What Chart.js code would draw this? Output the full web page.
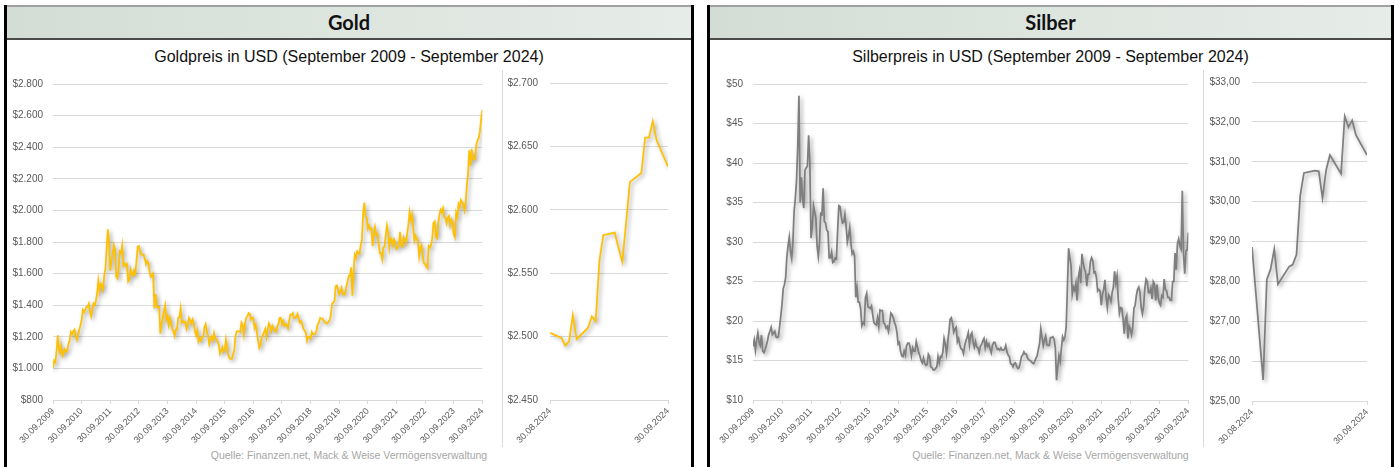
<!DOCTYPE html>
<html>
<head>
<meta charset="utf-8">
<script src="https://cdn.jsdelivr.net/npm/chart.js@4.4.1/dist/chart.umd.min.js"></script>
<style>
  html,body{margin:0;padding:0;background:#fff;width:1395px;height:467px;overflow:hidden;font-family:"Liberation Sans",Arial,sans-serif;}
  .panel{position:absolute;top:5px;height:470px;border-left:3px solid #000;border-right:3px solid #000;box-sizing:border-box;}
  .head{position:absolute;left:0;right:0;top:0;height:35px;box-sizing:border-box;border-top:2px solid #a0a0a0;border-bottom:2px solid #4a4a4a;
        background:linear-gradient(to right,#d3ddd5 0%,#dde5df 50%,#e6ece8 100%);
        font-family:Lato,"Open Sans",sans-serif;font-weight:700;font-size:20px;color:#111;text-align:center;line-height:31px;}
  .title{position:absolute;font-size:16px;line-height:18px;color:#111;text-align:center;white-space:nowrap;}
  .src{position:absolute;font-size:10.5px;color:#a6a6a6;text-align:center;white-space:nowrap;}
  .sep{position:absolute;width:1px;background:#d9d9d9;}
  .cv{position:absolute;}
</style>
</head>
<body>
<div class="panel" style="left:4px;width:690px;"><div class="head">Gold</div></div>
<div class="panel" style="left:707px;width:687px;"><div class="head">Silber</div></div>

<div class="title" style="left:4px;width:690px;top:48px;">Goldpreis in USD (September 2009 - September 2024)</div>
<div class="title" style="left:707px;width:687px;top:48px;">Silberpreis in USD (September 2009 - September 2024)</div>
<div class="src" style="left:4px;width:690px;top:449px;">Quelle: Finanzen.net, Mack &amp; Weise Vermögensverwaltung</div>
<div class="src" style="left:707px;width:687px;top:449px;">Quelle: Finanzen.net, Mack &amp; Weise Vermögensverwaltung</div>
<div class="sep" style="left:502px;top:70px;height:377px;"></div>
<div class="sep" style="left:1203px;top:70px;height:377px;"></div>

<canvas id="gMain" class="cv" style="left:8px;top:68px;" width="484" height="382"></canvas>
<canvas id="gInset" class="cv" style="left:503px;top:65px;" width="175" height="385"></canvas>
<canvas id="sMain" class="cv" style="left:708px;top:68px;" width="490" height="382"></canvas>
<canvas id="sInset" class="cv" style="left:1205px;top:64px;" width="172" height="387"></canvas>

<script>
// ---- Data (semi-monthly readings, starting 30.09.2009) ----
const yearTicks = ["30.09.2009","30.09.2010","30.09.2011","30.09.2012","30.09.2013","30.09.2014","30.09.2015","30.09.2016","30.09.2017","30.09.2018","30.09.2019","30.09.2020","30.09.2021","30.09.2022","30.09.2023","30.09.2024"];
const insetTicks = ["30.08.2024","30.09.2024"];

const goldPrice = [1000,
1050,1040,1110,1210,1120,1100,1140,1080,1100,1120,1105,1115,1155,1180,1230,1215,1235,1245,1205,1180,1215,1245,1270,1307,
1370,1355,1370,1390,1390,1410,1360,1330,1375,1410,1400,1430,1475,1555,1490,1535,1525,1500,1590,1630,1760,1880,1800,1620,
1680,1720,1780,1750,1580,1570,1640,1740,1730,1780,1650,1665,1650,1660,1550,1560,1625,1600,1590,1620,1600,1680,1770,1775,
1740,1720,1720,1720,1695,1660,1680,1665,1610,1580,1590,1600,1380,1470,1390,1390,1390,1220,1285,1315,1360,1400,1310,1330,
1275,1320,1285,1250,1235,1205,1245,1245,1320,1325,1380,1290,1300,1290,1295,1250,1275,1320,1305,1285,1310,1285,1235,1210,
1240,1170,1190,1175,1200,1200,1260,1280,1230,1210,1155,1185,1200,1180,1225,1190,1185,1170,1150,1095,1115,1135,1105,1115,
1185,1140,1085,1065,1060,1060,1090,1115,1205,1235,1235,1235,1230,1290,1275,1215,1285,1320,1330,1350,1345,1310,1320,1320,
1255,1275,1225,1175,1130,1150,1195,1210,1230,1250,1200,1250,1285,1265,1235,1270,1255,1240,1230,1265,1280,1320,1320,1280,
1300,1270,1280,1275,1255,1300,1340,1340,1350,1320,1320,1325,1345,1315,1290,1300,1280,1250,1240,1225,1175,1200,1200,1190,
1230,1215,1215,1220,1240,1280,1290,1320,1315,1315,1300,1295,1285,1285,1295,1305,1340,1410,1415,1425,1520,1525,1500,1470,
1485,1510,1470,1465,1475,1520,1550,1585,1585,1640,1460,1600,1720,1700,1740,1730,1725,1780,1810,1975,2050,1965,1955,1885,
1905,1880,1885,1775,1855,1895,1845,1850,1795,1730,1730,1690,1765,1770,1845,1905,1860,1765,1825,1815,1780,1815,1795,1755,
1765,1785,1865,1775,1770,1830,1820,1795,1855,1910,1990,1940,1975,1895,1810,1840,1820,1810,1710,1765,1780,1710,1665,1660,
1645,1635,1775,1765,1780,1825,1920,1930,1835,1825,1920,1970,2005,1990,2015,1960,1955,1920,1955,1965,1905,1940,1925,1850,
1830,1985,1960,2040,2020,2065,2050,2040,2000,2045,2160,2230,2380,2285,2390,2330,2320,2325,2420,2445,2460,2500,2580,2635];

const silverPrice = [16.8,
17.6,16.3,17.6,18.5,17.3,16.9,18.2,16.2,16.0,16.4,16.9,17.5,18.3,18.7,19.2,18.3,18.5,18.7,18.0,17.9,18.0,19.3,20.6,22.1,
24.1,24.6,25.5,28.1,29.5,30.6,28.8,27.9,30.0,33.9,35.5,37.8,42.0,48.5,35.0,38.2,35.5,34.3,39.1,39.4,39.6,43.5,40.0,30.5,
31.8,34.6,33.8,33.0,29.5,28.2,30.0,33.6,33.5,36.8,32.6,32.4,31.5,31.3,28.0,28.0,28.7,27.4,27.5,28.0,27.9,31.5,34.6,34.5,
33.2,32.4,32.5,33.5,32.0,30.0,30.8,31.8,29.8,28.5,28.8,28.2,23.0,24.2,22.4,22.4,21.6,19.4,19.8,19.6,23.0,23.5,21.8,21.7,
21.6,21.9,20.8,19.8,19.6,19.5,20.4,19.3,21.4,21.3,21.3,19.8,19.6,19.1,19.3,18.7,19.7,21.0,20.8,20.4,19.8,19.4,18.6,17.1,
17.3,16.2,15.6,15.5,16.2,15.7,16.9,17.2,17.2,16.6,15.6,16.6,16.2,16.2,17.4,16.7,16.0,15.6,15.0,14.7,15.3,14.6,14.4,14.5,
15.8,15.5,14.2,14.1,13.8,13.8,14.0,14.2,15.5,14.7,15.5,15.4,16.1,17.8,17.1,15.9,17.3,18.6,20.2,20.4,19.7,18.6,19.0,19.2,
17.4,17.8,17.0,16.5,16.4,15.9,16.8,17.5,17.9,18.5,17.0,18.2,18.5,17.3,16.7,17.4,16.7,16.6,16.0,16.8,17.0,17.5,17.8,16.6,
17.4,16.8,17.1,16.5,16.0,16.9,17.3,17.3,16.8,16.4,16.5,16.3,16.6,16.3,16.3,16.4,16.9,16.1,15.7,15.5,14.6,14.5,14.2,14.6,
14.7,14.3,14.0,14.1,14.7,15.5,15.7,16.1,15.8,15.8,15.3,15.1,15.0,14.9,14.7,14.6,14.9,15.3,15.6,16.4,17.2,19.0,17.9,16.9,
17.6,18.1,17.0,16.9,16.9,17.9,17.9,18.0,17.7,16.6,12.5,14.2,15.6,14.9,16.5,18.0,17.6,18.0,19.3,24.3,29.2,28.0,27.0,23.4,
24.3,23.9,24.8,22.6,25.5,26.4,24.8,28.5,27.4,26.6,26.2,24.4,25.9,25.9,27.5,28.0,27.6,26.1,26.2,25.5,23.8,24.0,23.8,22.0,
23.4,24.0,25.2,23.0,21.7,23.3,23.0,22.5,23.6,24.3,26.3,24.8,25.7,22.8,21.0,21.7,21.6,20.3,18.4,20.3,20.7,17.8,19.4,19.0,
18.3,19.2,21.6,22.0,23.2,24.0,24.3,23.6,21.7,20.9,21.9,24.1,25.3,25.0,23.6,23.6,24.2,22.8,25.0,24.7,22.6,24.6,23.0,22.3,
22.0,23.2,23.0,25.3,24.0,23.8,23.0,23.0,22.6,22.6,25.0,25.0,28.6,26.5,29.8,30.4,29.5,29.1,36.5,28.5,26.0,28.9,29.0,31.2];

// last month (days after 30.08.2024)
const insetDays = [0,3,4,5,6,7,10,11,12,13,14,17,18,19,20,21,24,25,26,27,28,31];
const goldInset = [2503,2499,2493,2496,2517,2498,2507,2516,2512,2560,2580,2582,2570,2559,2590,2622,2629,2657,2657,2670,2655,2634];
const silverInset = [28.86,25.53,28.05,28.30,28.81,27.93,28.37,28.42,28.67,30.15,30.72,30.78,30.76,30.09,30.80,31.17,30.70,32.14,31.87,32.04,31.67,31.17];

// ---- helpers ----
function thousands(v){ const s = Math.round(v).toString(); return s.replace(/\B(?=(\d{3})+(?!\d))/g,"."); }
const shadowPlugin = {
  id:'shadow',
  beforeDatasetsDraw(c){ const x=c.ctx; x.save(); x.shadowColor='rgba(0,0,0,0.38)'; x.shadowBlur=4; x.shadowOffsetX=2; x.shadowOffsetY=2; },
  afterDatasetsDraw(c){ c.ctx.restore(); }
};
const tickFont = {family:"'Liberation Sans', Arial, sans-serif", size:10};
const xFont = {family:"'Liberation Sans', Arial, sans-serif", size:9};
const GRID = '#d9d9d9', TXT = '#595959';

function makeChart(id, pts, color, opt){
  return new Chart(document.getElementById(id), {
    type:'line',
    data:{datasets:[{data:pts, borderColor:color, borderWidth:1.75, pointRadius:0, tension:0, fill:false}]},
    plugins:[shadowPlugin],
    options:{
      responsive:false, animation:false, events:[],
      layout:{padding:{left:0,right:opt.padRight,top:opt.padTop,bottom:0}},
      plugins:{legend:{display:false}, tooltip:{enabled:false}, title:{display:false}},
      scales:{
        x:{type:'linear', min:opt.xMin, max:opt.xMax,
           afterFit(s){ s.height = 50; },
           afterBuildTicks(s){ s.ticks = opt.xTickVals.map(v=>({value:v})); },
           grid:{drawOnChartArea:false, drawTicks:true, tickLength:4, color:GRID},
           border:{display:true, color:GRID},
           ticks:{autoSkip:false, minRotation:45, maxRotation:45, padding:2, color:TXT, font:xFont, callback:opt.xLabel}},
        y:{min:opt.yMin, max:opt.yMax,
           afterFit(s){ s.width = opt.yWidth; },
           grid:{color:GRID, drawTicks:false, lineWidth:1},
           border:{display:false},
           ticks:{stepSize:opt.yStep, padding:opt.yPad, color:TXT, font:tickFont, callback:opt.yLabel}}
      }
    }
  });
}

const mainXVals = yearTicks.map((t,i)=>i);
const goldPts = goldPrice.map((v,i)=>({x:i/24, y:v}));
const silverPts = silverPrice.map((v,i)=>({x:i/24, y:v}));
const gInsetPts = insetDays.map((d,i)=>({x:d, y:goldInset[i]}));
const sInsetPts = insetDays.map((d,i)=>({x:d, y:silverInset[i]}));

makeChart('gMain', goldPts, '#FFC000', {
  padRight:9, padTop:12, xMin:0, xMax:15, xTickVals:mainXVals,
  xLabel:(v)=>yearTicks[Math.round(v)], yMin:800, yMax:2800, yStep:200, yWidth:45, yPad:10,
  yLabel:(v)=>'$'+thousands(v)});
makeChart('gInset', gInsetPts, '#FFC000', {
  padRight:10, padTop:12, xMin:0, xMax:31, xTickVals:[0,31],
  xLabel:(v)=> v===0 ? insetTicks[0] : insetTicks[1], yMin:2450, yMax:2700, yStep:50, yWidth:47, yPad:12,
  yLabel:(v)=>'$'+thousands(v)});
makeChart('sMain', silverPts, '#7f7f7f', {
  padRight:9, padTop:12, xMin:0, xMax:15, xTickVals:mainXVals,
  xLabel:(v)=>yearTicks[Math.round(v)], yMin:10, yMax:50, yStep:5, yWidth:45, yPad:10,
  yLabel:(v)=>'$'+v});
makeChart('sInset', sInsetPts, '#7f7f7f', {
  padRight:10, padTop:12, xMin:0, xMax:31, xTickVals:[0,31],
  xLabel:(v)=> v===0 ? insetTicks[0] : insetTicks[1], yMin:25, yMax:33, yStep:1, yWidth:47, yPad:12,
  yLabel:(v)=>'$'+v.toFixed(2).replace('.',',')});
</script>
</body>
</html>
